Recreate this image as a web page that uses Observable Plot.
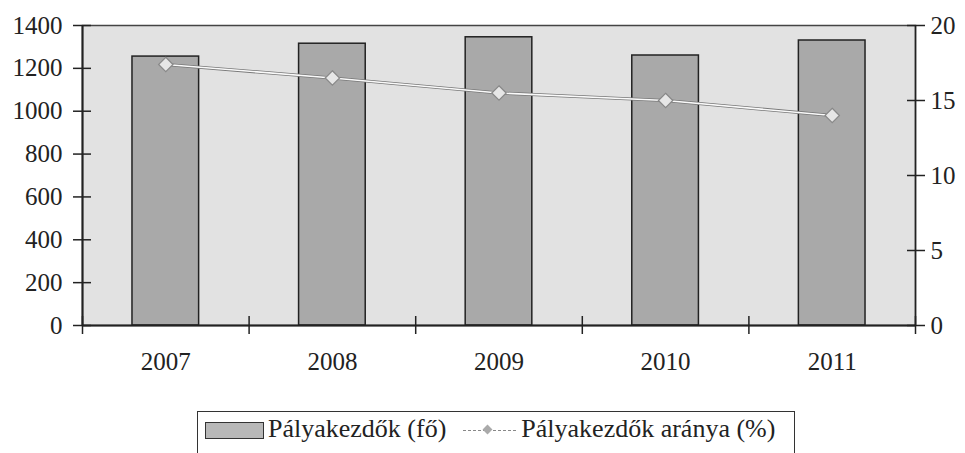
<!DOCTYPE html>
<html><head><meta charset="utf-8">
<script src="https://cdn.jsdelivr.net/npm/d3@7"></script>
<script src="https://cdn.jsdelivr.net/npm/@observablehq/plot@0.6"></script>
<style>
body{margin:0;background:#fff;overflow:hidden;font-family:"Liberation Serif","DejaVu Serif",serif;}
#wrap{position:relative;width:965px;height:453px;overflow:hidden;}
#legend{position:absolute;left:197px;top:411px;width:598px;height:70px;border:1.5px solid #333;box-sizing:border-box;font-family:"Liberation Serif","DejaVu Serif",serif;font-size:26px;line-height:30px;color:#222;display:flex;align-items:flex-start;padding:2px 0 0 7px;}
.item{display:flex;align-items:center;white-space:nowrap;}
.sw{display:inline-block;width:59px;height:17px;background:#b8b8b8;border:1.5px solid #333;box-sizing:border-box;margin-right:4px;position:relative;top:1px;}
.ln{display:inline-block;position:relative;width:53px;height:12px;margin:0 5px 0 17px;top:1px;}
.ln:before{content:"";position:absolute;left:0;right:0;top:6px;border-top:1px dashed #888;}
.ln:after{content:"";position:absolute;left:21px;top:2px;width:7px;height:7px;background:#aaa;transform:rotate(45deg);}
</style></head>
<body><div id="wrap"><div id="chart"></div><div id="legend"></div></div>
<script>
const years = [2007, 2008, 2009, 2010, 2011];
const starters = [1255, 1315, 1345, 1260, 1330];
const share = [17.4, 16.5, 15.5, 15.0, 14.0];
const leftTicks = [0, 200, 400, 600, 800, 1000, 1200, 1400];
const rightTicks = [0, 5, 10, 15, 20];
const legendLabels = ["Pályakezdők (fő)", "Pályakezdők aránya (%)"];

const ratio = 1400 / 20;
const font = "'Liberation Serif','DejaVu Serif',serif";
const data = years.map((y, i) => ({year: y, n: starters[i], pct: share[i]}));
const bounds = years.map(y => y - 0.5).concat([years[years.length - 1] + 0.5]);

const chart = Plot.plot({
  width: 965,
  height: 395,
  marginTop: 25,
  marginBottom: 70,
  marginLeft: 82,
  marginRight: 50,
  style: {fontFamily: font, color: "#222", background: "transparent"},
  x: {type: "linear", domain: [years[0] - 0.5, years[years.length - 1] + 0.5]},
  y: {domain: [0, 1400]},
  marks: [
    Plot.frame({fill: "#e2e2e2", stroke: "#444", strokeWidth: 1.5}),
    Plot.rectY(data, {x1: d => d.year - 0.2, x2: d => d.year + 0.2, y: "n", fill: "#a9a9a9", stroke: "#222", strokeWidth: 1.5}),
    Plot.line(data, {x: "year", y: d => d.pct * ratio, stroke: "#777", strokeWidth: 3.2}),
    Plot.line(data, {x: "year", y: d => d.pct * ratio, stroke: "#fafafa", strokeWidth: 1.6}),
    Plot.dot(data, {x: "year", y: d => d.pct * ratio, symbol: "diamond2", r: 6.5, fill: "#e6e6e6", stroke: "#888", strokeWidth: 1.2}),
    Plot.ruleY([0], {stroke: "#222", strokeWidth: 2}),
    Plot.ruleX([years[0] - 0.5], {stroke: "#222", strokeWidth: 2}),
    Plot.ruleX([years[years.length - 1] + 0.5], {stroke: "#222", strokeWidth: 1.5}),
    Plot.axisY(leftTicks, {anchor: "left", tickSize: 18, dx: 9, tickPadding: 11, fontSize: 25, fontFamily: font, tickFormat: d => String(d), strokeWidth: 1.5, label: null}),
    Plot.axisY(rightTicks.map(v => v * ratio), {anchor: "right", tickSize: 18, dx: -9, tickPadding: 6, fontSize: 25, fontFamily: font, tickFormat: d => String(d / ratio), strokeWidth: 1.5, label: null}),
    Plot.axisX(bounds, {anchor: "bottom", tickSize: 18, dy: -9, tickFormat: () => "", strokeWidth: 1.5, label: null}),
    Plot.axisX(years, {anchor: "bottom", tickSize: 0, tickPadding: 27, fontSize: 25, fontFamily: font, tickFormat: d => String(d), label: null})
  ]
});
document.getElementById("chart").appendChild(chart);

const lg = document.getElementById("legend");
lg.innerHTML = `<div class="item"><span class="sw"></span>${legendLabels[0]}</div>
<div class="item"><span class="ln"></span>${legendLabels[1]}</div>`;
</script></body></html>
